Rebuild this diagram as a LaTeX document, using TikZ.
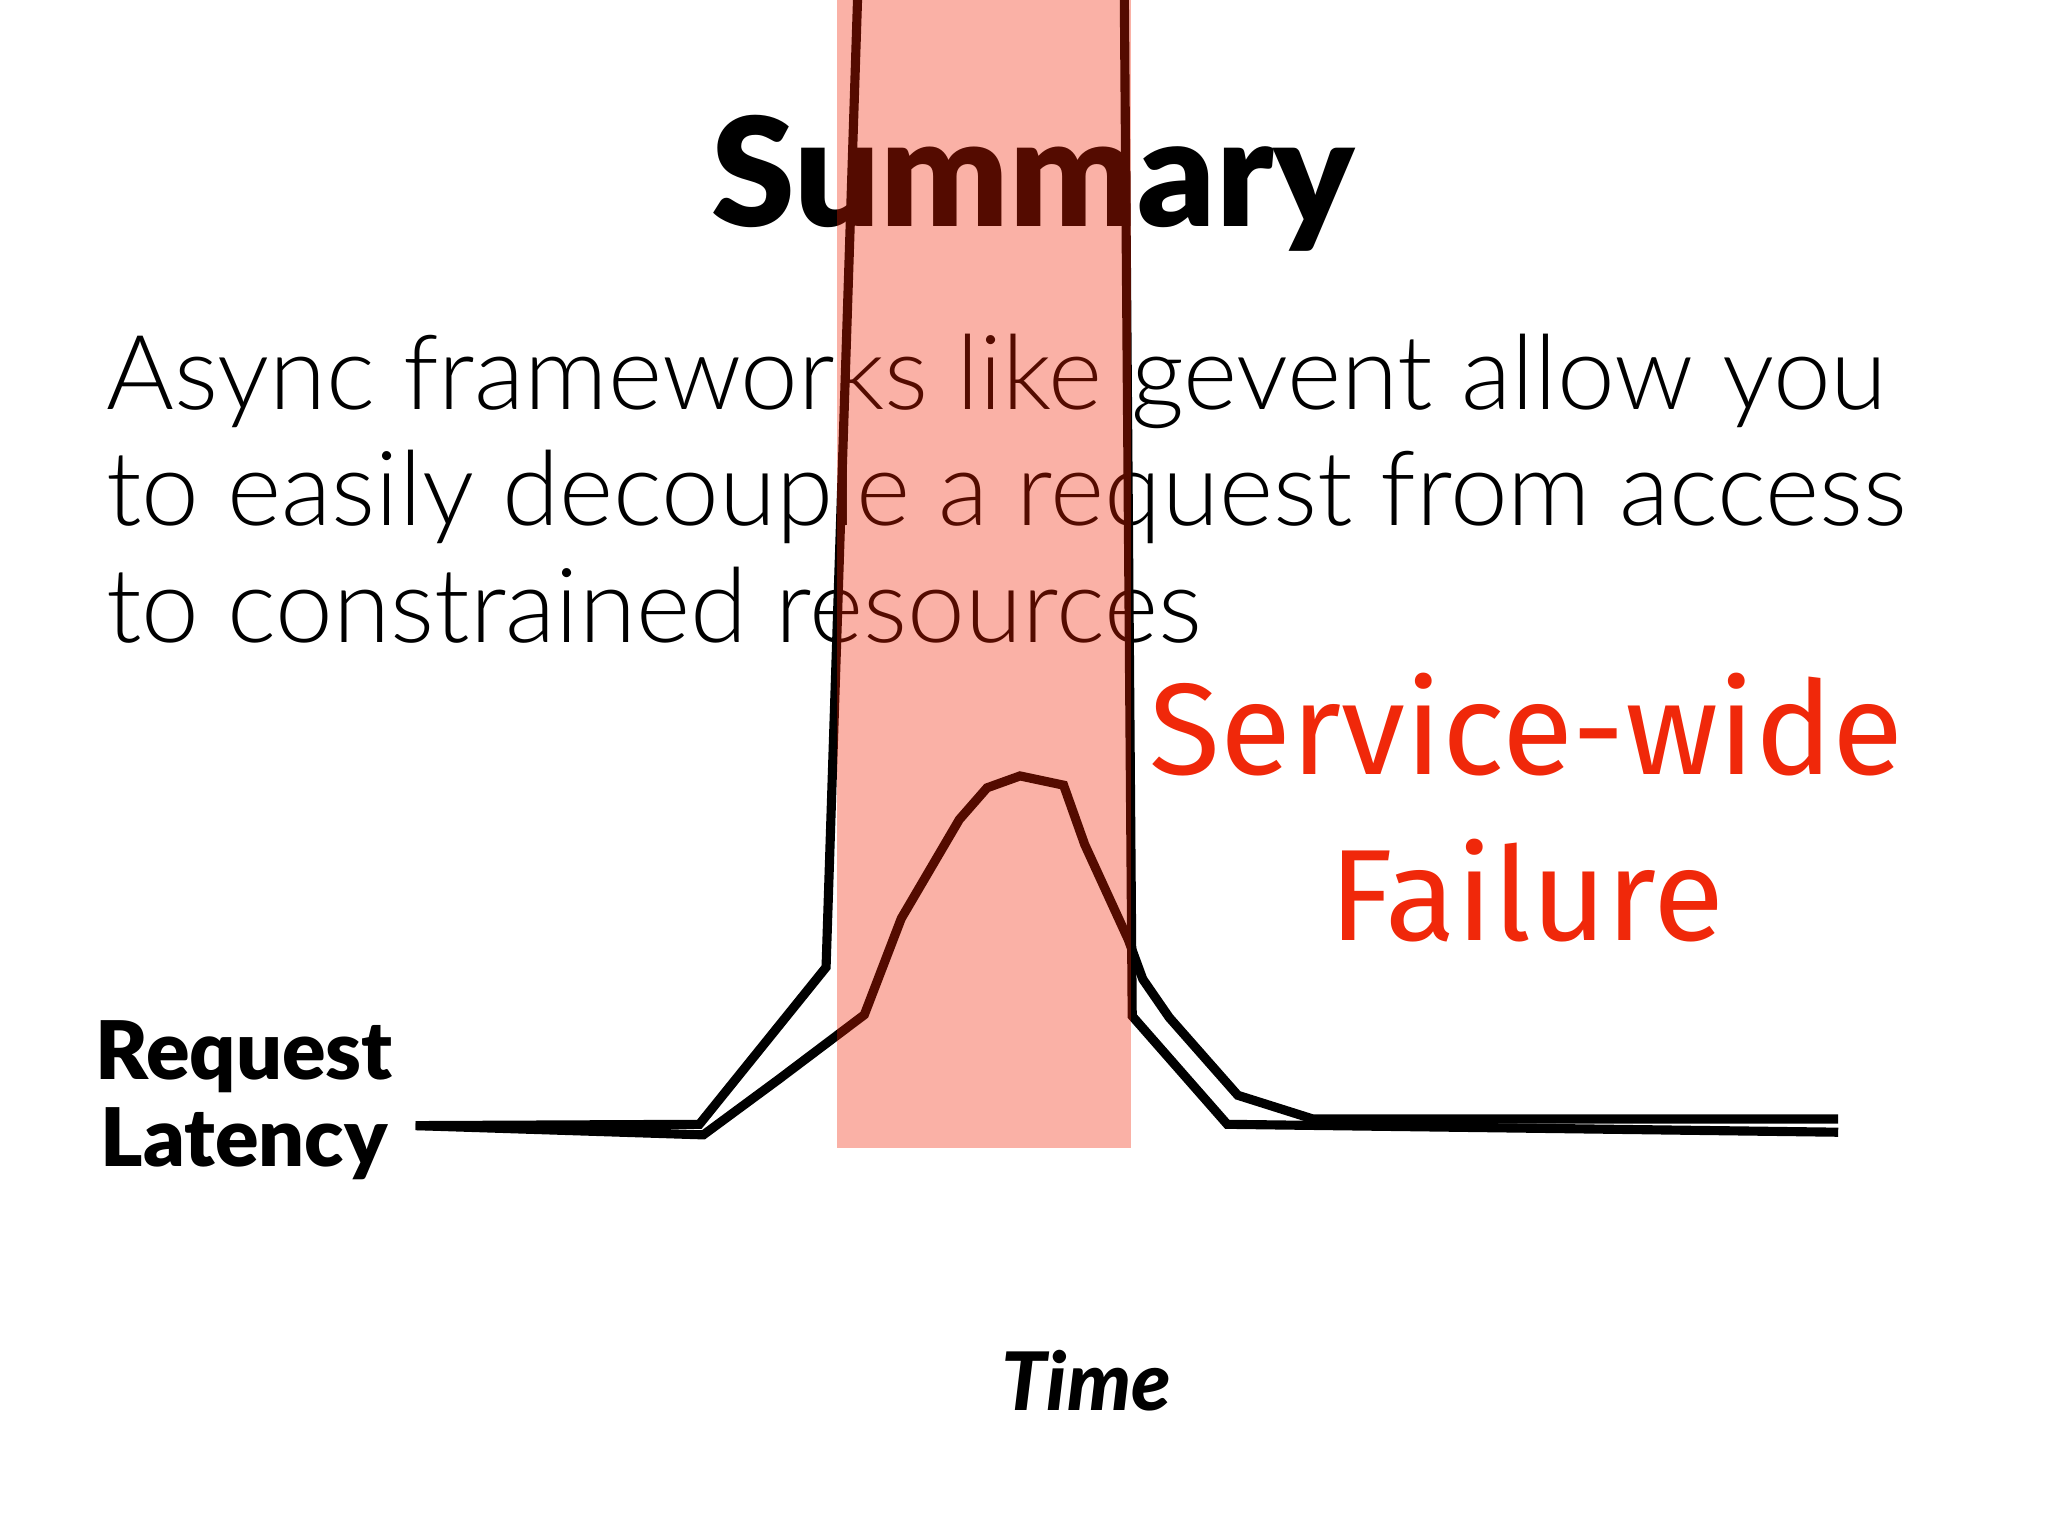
\documentclass[tikz,border=0pt]{standalone}
\usepackage{fontspec}
\setmainfont{Lato}
\newfontfamily\lightfont{Lato}[UprightFont={* Light}]
\newfontfamily\heavyfont{Lato}[UprightFont={* Black},BoldFont={* Black},BoldItalicFont={* Black Italic}]
\newfontfamily\redfont{Fira Sans}
\begin{document}
\begin{tikzpicture}[x=0.013196cm,y=-0.013196cm,
  curve/.style={line width=2.6pt,line join=miter,black},
  body/.style={anchor=base west,inner sep=0,font=\lightfont\fontsize{29.5}{33}\selectfont},
  red/.style={anchor=base,inner sep=0,text={rgb,255:red,240;green,40;blue,10},font=\redfont\fontsize{37}{44}\selectfont}]
\useasboundingbox (0,0) rectangle (1552,1164);
\fill[white] (0,0) rectangle (1552,1164);
\node[anchor=base,inner sep=0,font=\heavyfont\fontsize{43}{46}\selectfont] (title) at (783,172) {Summary};
\node[body] (l1) at (80,310) {Async frameworks like gevent allow you};
\node[body] (l2) at (80,398) {to easily decouple a request from access};
\node[body] (l3) at (80,487) {to constrained resources};
\node[red] (s1) at (1157,587) {Service-wide};
\node[red] (s2) at (1157,713) {Failure};
\node[anchor=base west,inner sep=0,font=\heavyfont\fontsize{23}{26}\selectfont] (r1) at (72,818) {Request};
\node[anchor=base west,inner sep=0,font=\heavyfont\fontsize{23}{26}\selectfont] (r2) at (76,884) {Latency};
\node[anchor=base,inner sep=0,font=\heavyfont\fontsize{23}{26}\selectfont\itshape] (t) at (823,1069) {Time};
\coordinate (a) at (315,853);
\coordinate (b) at (1393,858);
\coordinate (c) at (1393,848);
\draw[curve] (a) -- (530,852) -- (626,733) -- (650,-5);
\draw[curve] (852,-5) -- (858,770) -- (930,852) -- (b);
\draw[curve] (a) -- (533,860) -- (590,818) -- (655,769) -- (683,696) -- (727,621) -- (748,597) -- (773,588) -- (806,595) -- (822,640) -- (855,712) -- (866,742) -- (886,771) -- (938,830) -- (995,848) -- (c);
\fill[fill={rgb,255:red,243;green,34;blue,0},fill opacity=0.35] (634,0) rectangle (857,870);
\end{tikzpicture}
\end{document}
